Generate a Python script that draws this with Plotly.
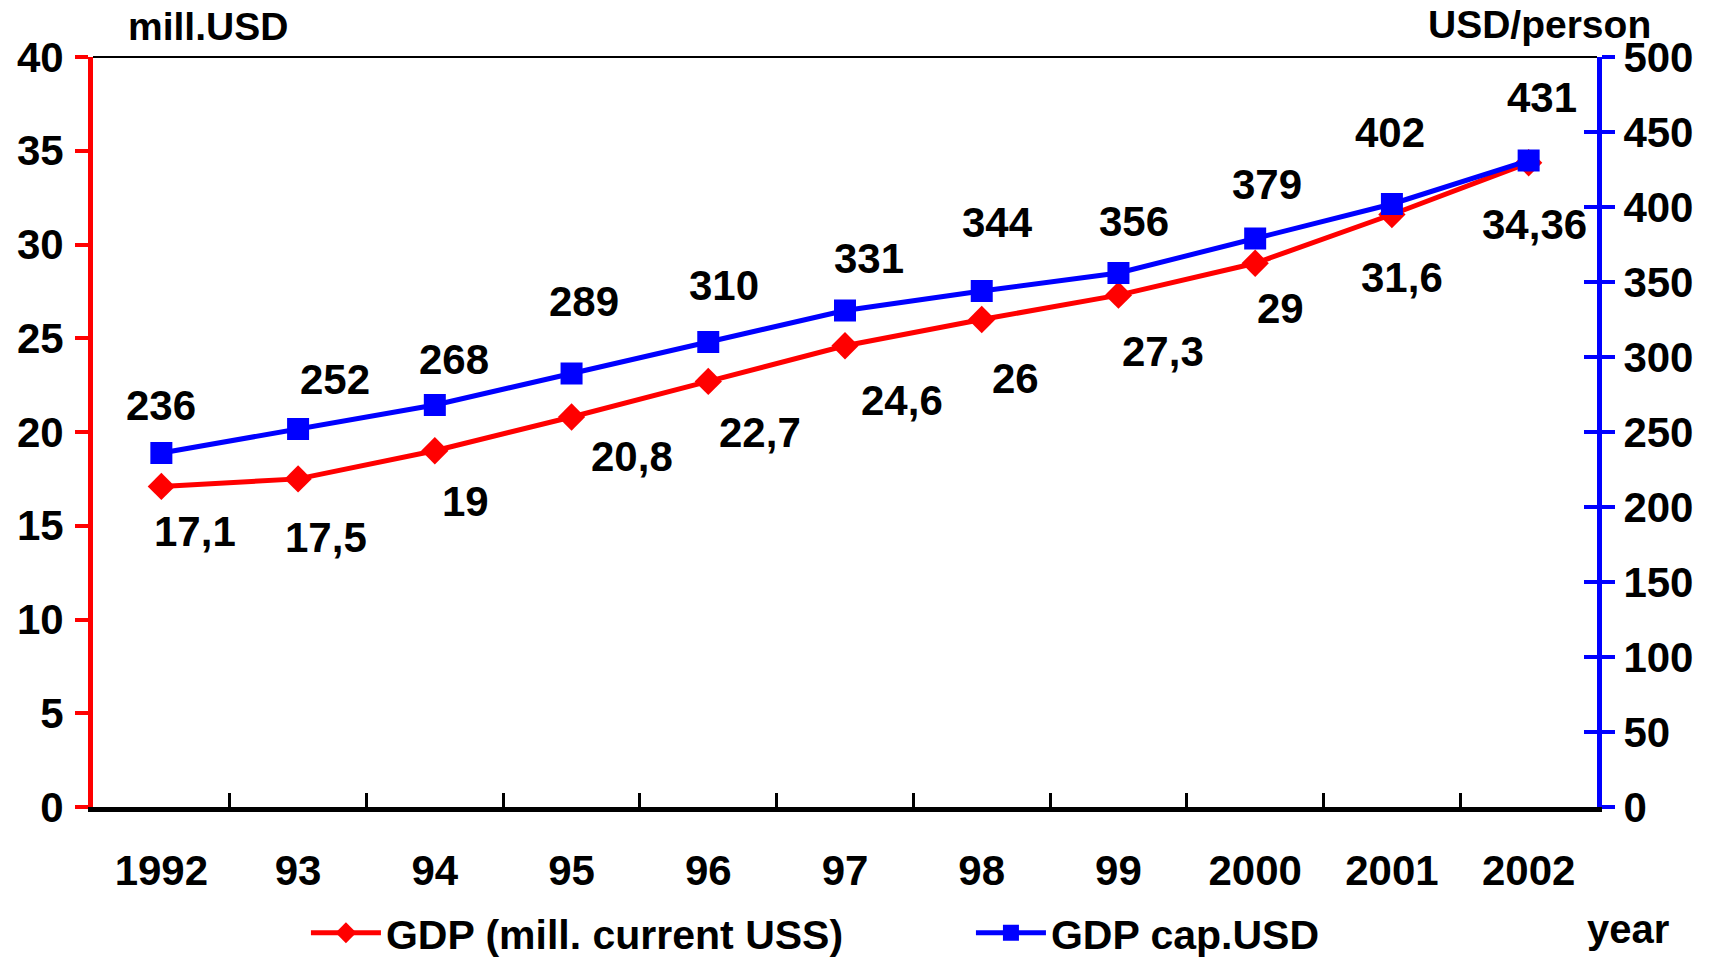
import plotly.graph_objects as go

# Year labels on the category axis
years = ["1992", "93", "94", "95", "96", "97", "98", "99", "2000", "2001", "2002"]
# GDP, million current USD (left axis)
gdp_mill = [17.1, 17.5, 19, 20.8, 22.7, 24.6, 26, 27.3, 29, 31.6, 34.36]
# GDP per capita, USD/person (right axis)
gdp_cap = [236, 252, 268, 289, 310, 331, 344, 356, 379, 402, 431]

RED = "#ff0000"
BLUE = "#0000ff"
FONT = "Liberation Sans, Arial, sans-serif"

# value-label nudges in pixels (dx, dy up)
cap_shift = [(0, 48), (37, 50), (19, 46), (12, 72), (16, 57), (24, 52),
             (16, 69), (16, 52), (12, 54), (-2, 72), (13, 63)]
mill_shift = [(34, -45), (28, -59), (31, -51), (60, -39), (52, -51), (57, -55),
              (34, -59), (45, -56), (25, -45), (10, -63), (6, -62)]

fig = go.Figure()
fig.add_trace(go.Scatter(
    x=years, y=gdp_mill, name="GDP (mill. current USS)", mode="lines+markers",
    line=dict(color=RED, width=5),
    marker=dict(symbol="diamond", size=21, color=RED),
    yaxis="y",
))
fig.add_trace(go.Scatter(
    x=years, y=gdp_cap, name="GDP cap.USD", mode="lines+markers",
    line=dict(color=BLUE, width=5),
    marker=dict(symbol="square", size=22, color=BLUE),
    yaxis="y2",
))

label_font = dict(size=42, color="black", family=FONT, weight="bold")
annotations = []
# category axis: annotations are placed by category index
for i, (v, (dx, dy)) in enumerate(zip(gdp_cap, cap_shift)):
    annotations.append(dict(x=i, y=v, xref="x", yref="y2", text=f"{v:g}",
                            showarrow=False, xshift=dx, yshift=dy, font=label_font))
for i, (v, (dx, dy)) in enumerate(zip(gdp_mill, mill_shift)):
    annotations.append(dict(x=i, y=v, xref="x", yref="y", text=f"{v:g}".replace(".", ","),
                            showarrow=False, xshift=dx, yshift=dy, font=label_font))

title_font = dict(size=39, color="black", family=FONT, weight="bold")
annotations += [
    dict(x=0.022, y=1.041, xref="paper", yref="paper", text="mill.USD", showarrow=False,
         xanchor="left", yanchor="middle", font=title_font),
    dict(x=0.962, y=1.043, xref="paper", yref="paper", text="USD/person", showarrow=False,
         xanchor="center", yanchor="middle", font=title_font),
    dict(x=1.0206, y=-0.163, xref="paper", yref="paper", text="year", showarrow=False,
         xanchor="center", yanchor="middle", font=dict(title_font, size=40)),
]

tick_font = dict(size=42, color="black", family=FONT, weight="bold")

fig.update_layout(
    width=1713, height=957,
    margin=dict(l=93, r=116, t=57, b=150, autoexpand=False),
    paper_bgcolor="white", plot_bgcolor="white",
    showlegend=True,
    legend=dict(orientation="h", x=0.1786, xref="container", xanchor="left",
                y=0.025, yref="container", yanchor="middle",
                font=dict(size=41, color="black", family=FONT, weight="bold"),
                itemwidth=70, entrywidth=580, bgcolor="rgba(0,0,0,0)"),
    xaxis=dict(
        type="category", range=[-0.5, 10.5], automargin=False,
        showline=True, linecolor="black", linewidth=5,
        ticks="inside", tickson="boundaries", ticklen=14, tickwidth=3, tickcolor="black",
        showgrid=False, zeroline=False, tickfont=tick_font,
        ticklabelstandoff=23,
    ),
    yaxis=dict(
        range=[0, 40], dtick=5, automargin=False,
        showline=True, linecolor=RED, linewidth=5,
        ticks="outside", ticklen=13, tickwidth=4, tickcolor=RED,
        showgrid=False, zeroline=False, tickfont=tick_font, ticklabelstandoff=3,
    ),
    yaxis2=dict(
        range=[0, 500], dtick=50, overlaying="y", side="right", anchor="x", automargin=False,
        showline=True, linecolor=BLUE, linewidth=5,
        ticks="outside", ticklen=13, tickwidth=4, tickcolor=BLUE,
        showgrid=False, zeroline=False, tickfont=tick_font, ticklabelstandoff=0,
    ),
    yaxis3=dict(
        range=[0, 500], dtick=50, overlaying="y", side="right", anchor="x", automargin=False,
        showline=False, ticks="inside", ticklen=13, tickwidth=4, tickcolor=BLUE,
        showticklabels=False, showgrid=False, zeroline=False,
    ),
    annotations=annotations,
    shapes=[dict(type="line", xref="paper", yref="paper", x0=0, x1=1, y0=1, y1=1,
                 line=dict(color="black", width=2), layer="below")],
)

# invisible trace so the inner tick marks of the right axis are drawn
fig.add_trace(go.Scatter(x=[years[0]], y=[0], yaxis="y3", mode="markers",
                         marker=dict(opacity=0), showlegend=False, hoverinfo="skip"))

fig.write_html("out.html")
